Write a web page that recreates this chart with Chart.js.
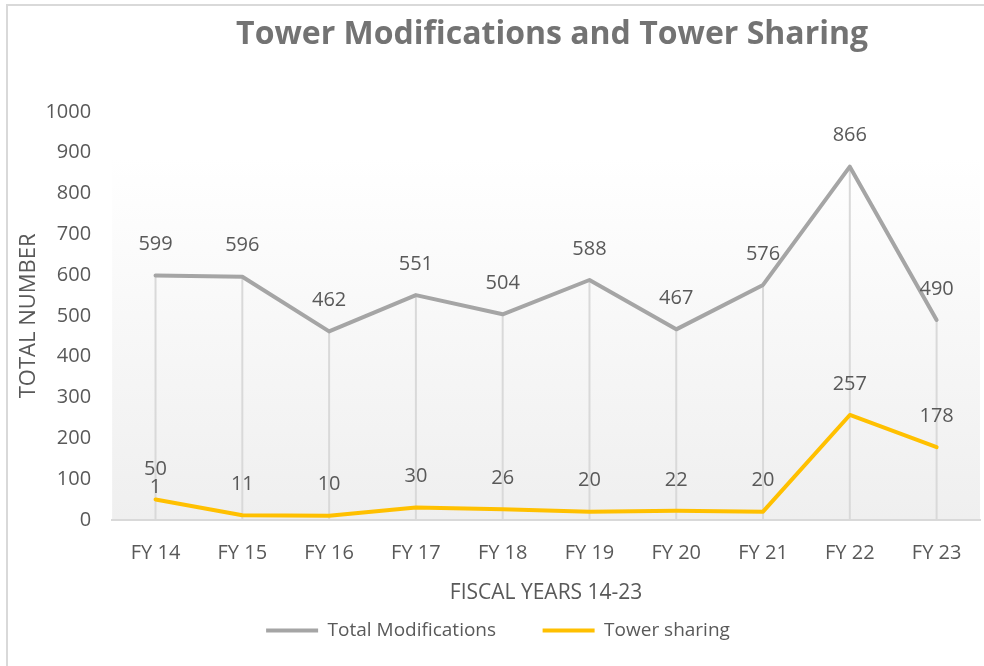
<!DOCTYPE html>
<html>
<head>
<meta charset="utf-8">
<script src="https://cdn.jsdelivr.net/npm/chart.js@4.4.0/dist/chart.umd.min.js"></script>
<style>
html,body{margin:0;padding:0;background:#ffffff;}
#wrap{width:984px;height:666px;position:relative;}
</style>
</head>
<body>
<div id="wrap"><canvas id="c" width="984" height="666"></canvas></div>
<script>
const chartTitle = 'Tower Modifications and Tower Sharing';
const categories = ['FY 14','FY 15','FY 16','FY 17','FY 18','FY 19','FY 20','FY 21','FY 22','FY 23'];
const totalModifications = [599, 596, 462, 551, 504, 588, 467, 576, 866, 490];
const towerSharing = [50, 11, 10, 30, 26, 20, 22, 20, 257, 178];
const totalModificationsLabels = ['599','596','462','551','504','588','467','576','866','490'];
const towerSharingLabels = [['50','1'],'11','10','30','26','20','22','20','257','178'];
const yTickMin = 0, yTickMax = 1000, yTickStep = 100;

const FONT = "'Open Sans', 'Noto Sans', sans-serif";
const TEXT = '#595959';

const framePlugin = {
  id: 'frame',
  beforeDraw(chart) {
    const ctx = chart.ctx, a = chart.chartArea, y = chart.scales.y;
    ctx.save();
    // outer frame
    ctx.strokeStyle = '#d9d9d9';
    ctx.lineWidth = 2;
    ctx.beginPath();
    ctx.moveTo(7, 666); ctx.lineTo(7, 5); ctx.lineTo(984, 5);
    ctx.stroke();
    // plot area gradient
    const top = y.getPixelForValue(888);
    const g = ctx.createLinearGradient(0, top, 0, a.bottom);
    g.addColorStop(0, '#ffffff');
    g.addColorStop(1, '#efefef');
    ctx.fillStyle = g;
    ctx.fillRect(a.left, top, a.right - a.left, a.bottom - top);
    // title
    ctx.fillStyle = '#737373';
    ctx.font = "bold 32px " + FONT;
    ctx.textAlign = 'center';
    ctx.textBaseline = 'middle';
    ctx.fillText(chartTitle, (a.left + a.right) / 2 + 6, 35);
    ctx.restore();
  },
  beforeDatasetsDraw(chart) {
    // drop lines from highest point to the axis
    const ctx = chart.ctx, a = chart.chartArea;
    const m0 = chart.getDatasetMeta(0).data, m1 = chart.getDatasetMeta(1).data;
    ctx.save();
    ctx.strokeStyle = '#d9d9d9';
    ctx.lineWidth = 2;
    for (let i = 0; i < m0.length; i++) {
      const top = Math.min(m0[i].y, m1[i].y);
      ctx.beginPath();
      ctx.moveTo(m0[i].x, top);
      ctx.lineTo(m0[i].x, a.bottom);
      ctx.stroke();
    }
    ctx.restore();
  },
  afterDatasetsDraw(chart) {
    const ctx = chart.ctx;
    ctx.save();
    ctx.fillStyle = TEXT;
    ctx.font = "20px " + FONT;
    ctx.textAlign = 'center';
    ctx.textBaseline = 'middle';
    chart.data.datasets.forEach((ds, di) => {
      const meta = chart.getDatasetMeta(di);
      meta.data.forEach((pt, i) => {
        const lab = ds.valueLabels[i];
        if (Array.isArray(lab)) {
          const n = lab.length;
          lab.forEach((t, k) => ctx.fillText(t, pt.x, pt.y - 12 - (n - 1 - k) * 18));
        } else {
          ctx.fillText(lab, pt.x, pt.y - 31);
        }
      });
    });
    ctx.restore();
  }
};

new Chart(document.getElementById('c'), {
  type: 'line',
  data: {
    labels: categories,
    datasets: [
      {
        label: 'Total Modifications',
        data: totalModifications,
        valueLabels: totalModificationsLabels,
        borderColor: '#a5a5a5',
        backgroundColor: '#a5a5a5',
        borderWidth: 4,
        pointRadius: 0,
        tension: 0,
        borderCapStyle: 'round',
        borderJoinStyle: 'round',
        pointStyle: 'line'
      },
      {
        label: 'Tower sharing',
        data: towerSharing,
        valueLabels: towerSharingLabels,
        borderColor: '#ffc000',
        backgroundColor: '#ffc000',
        borderWidth: 4,
        pointRadius: 0,
        tension: 0,
        borderCapStyle: 'round',
        borderJoinStyle: 'round',
        pointStyle: 'line'
      }
    ]
  },
  options: {
    responsive: false,
    animation: false,
    devicePixelRatio: 1,
    layout: { padding: { top: 112, left: 16, right: 4, bottom: 16 } },
    plugins: {
      title: { display: false },
      tooltip: { enabled: false },
      legend: {
        position: 'bottom',
        labels: {
          usePointStyle: true,
          pointStyleWidth: 52,
          color: TEXT,
          font: { family: FONT, size: 19 },
          padding: 12,
          generateLabels(chart) {
            const items = Chart.defaults.plugins.legend.labels.generateLabels(chart);
            items[0].text = items[0].text + '       ';
            return items;
          }
        }
      }
    },
    scales: {
      x: {
        offset: true,
        grid: { display: false, offset: false, drawTicks: false },
        border: { display: true, color: '#d9d9d9', width: 2 },
        ticks: { color: TEXT, font: { family: FONT, size: 20 }, padding: 21, maxRotation: 0 },
        title: { display: true, text: 'FISCAL YEARS 14-23', color: TEXT, font: { family: FONT, size: 21 }, padding: { top: -5, bottom: 3 } }
      },
      y: {
        min: yTickMin,
        max: yTickMax,
        grid: { display: false, drawTicks: false },
        border: { display: false },
        ticks: { stepSize: yTickStep, color: TEXT, font: { family: FONT, size: 20 }, padding: 21,
                 callback: (v) => String(v) },
        title: { display: true, text: 'TOTAL NUMBER', color: TEXT, font: { family: FONT, size: 22 }, padding: { top: 0, bottom: -18 } }
      }
    }
  },
  plugins: [framePlugin]
});
</script>
</body>
</html>
